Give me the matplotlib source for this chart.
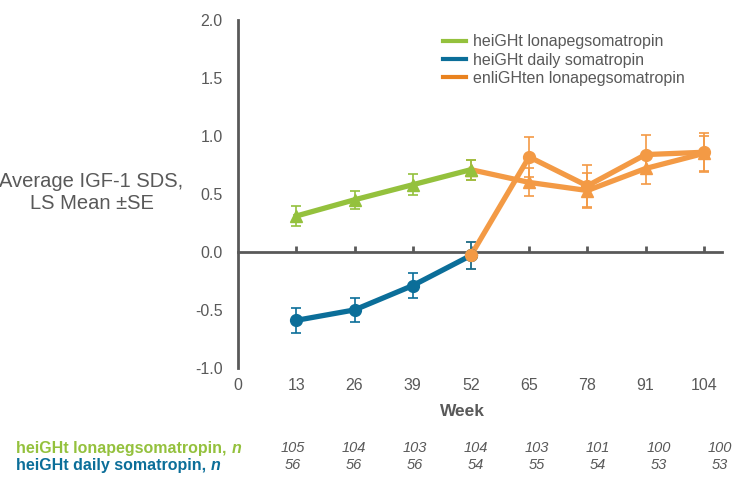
import numpy as np
import matplotlib.pyplot as plt
from matplotlib.lines import Line2D

# weeks on the x axis
weeks = [0, 13, 26, 39, 52, 65, 78, 91, 104]

# heiGHt lonapegsomatropin (weeks 13-52)
lonap_weeks = [13, 26, 39, 52]
lonap_mean = [0.31, 0.45, 0.58, 0.71]
lonap_se = [0.085, 0.08, 0.09, 0.085]

# heiGHt daily somatropin (weeks 13-52)
daily_weeks = [13, 26, 39, 52]
daily_mean = [-0.59, -0.50, -0.29, -0.03]
daily_se = [0.11, 0.10, 0.11, 0.115]

# enliGHten, previously lonapegsomatropin (triangles)
ext_lonap_weeks = [52, 65, 78, 91, 104]
ext_lonap_mean = [0.71, 0.60, 0.53, 0.72, 0.85]
ext_lonap_se = [0.085, 0.12, 0.15, 0.13, 0.15]

# enliGHten, switched from daily somatropin (circles)
ext_daily_weeks = [52, 65, 78, 91, 104]
ext_daily_mean = [-0.03, 0.82, 0.57, 0.84, 0.86]
ext_daily_se = [0.115, 0.17, 0.18, 0.17, 0.17]

# numbers at risk
n_lonap = [105, 104, 103, 104, 103, 101, 100, 100]
n_daily = [56, 56, 56, 54, 55, 54, 53, 53]

GREEN = '#94C13D'
BLUE = '#0B6E99'
ORANGE = '#F39A45'
ORANGE_LEG = '#E9821F'
GREY = '#595959'

plt.rcParams['font.family'] = ['Liberation Sans', 'DejaVu Sans']

fig = plt.figure(figsize=(7.44, 4.79), dpi=100)
ax = fig.add_axes([0.32, 0.232, 0.65, 0.726])


def series(x, y, e, color, marker):
    ax.errorbar(x, y, yerr=e, color=color, lw=3.8, marker=marker, ms=8.5,
                ecolor=color, elinewidth=1.2, capsize=3.5, capthick=1.2, zorder=3)


series(ext_daily_weeks, ext_daily_mean, ext_daily_se, ORANGE, 'o')
series(ext_lonap_weeks, ext_lonap_mean, ext_lonap_se, ORANGE, '^')
series(lonap_weeks, lonap_mean, lonap_se, GREEN, '^')
series(daily_weeks, daily_mean, daily_se, BLUE, 'o')
# orange starting point at week 52 drawn over blue
ax.plot(ext_daily_weeks[:1], ext_daily_mean[:1], 'o', color=ORANGE, ms=8.5, zorder=4)

ax.set_xlim(0, 108)
ax.set_ylim(-1.0, 2.0)
ax.set_yticks([-1.0, -0.5, 0.0, 0.5, 1.0, 1.5, 2.0])
ax.set_yticklabels(['%.1f' % v for v in ax.get_yticks()])

for s in ['top', 'right']:
    ax.spines[s].set_visible(False)
ax.spines['left'].set_color(GREY)
ax.spines['left'].set_linewidth(2)
ax.spines['bottom'].set_position(('data', 0))
ax.spines['bottom'].set_color(GREY)
ax.spines['bottom'].set_linewidth(2)
ax.tick_params(axis='y', length=0, labelsize=11.5, labelcolor=GREY, pad=11)
ax.set_xticks(weeks[1:])
ax.tick_params(axis='x', direction='in', length=4, width=2, color=GREY,
               labelbottom=False)

sec = ax.secondary_xaxis(0)
sec.set_xticks(weeks)
sec.spines['bottom'].set_visible(False)
sec.tick_params(length=0, labelsize=11.5, labelcolor=GREY, pad=7)

fig.text(0.123, 0.599, 'Average IGF-1 SDS,\nLS Mean \u00b1SE', ha='center', va='center',
         fontsize=14.5, color=GREY, linespacing=1.2)
fig.text(0.622, 0.14, 'Week', ha='center', va='center', fontsize=12.5,
         fontweight='bold', color=GREY)

handles = [Line2D([], [], color=GREEN, lw=3),
           Line2D([], [], color=BLUE, lw=3),
           Line2D([], [], color=ORANGE_LEG, lw=3)]
ax.legend(handles, ['heiGHt lonapegsomatropin', 'heiGHt daily somatropin',
                    'enliGHten lonapegsomatropin'],
          loc='upper left', bbox_to_anchor=(0.395, 1.0), frameon=False,
          fontsize=11.5, labelcolor=GREY, handlelength=1.4, handletextpad=0.45,
          labelspacing=0.2)

# numbers table
for label, color, yf in [('heiGHt lonapegsomatropin, ', GREEN, 0.064),
                         ('heiGHt daily somatropin, ', BLUE, 0.029)]:
    t = fig.text(0.022, yf, label, ha='left', va='center', fontsize=11.5,
                 fontweight='bold', color=color)
    ax.annotate('n', xy=(1, 0), xycoords=t, va='bottom', fontsize=11.5,
                fontweight='bold', style='italic', color=color)

cols = np.linspace(0.394, 0.968, len(n_lonap))
for x, a, b in zip(cols, n_lonap, n_daily):
    fig.text(x, 0.064, str(a), ha='center', va='center',
             fontsize=10.5, style='italic', color=GREY)
    fig.text(x, 0.029, str(b), ha='center', va='center',
             fontsize=10.5, style='italic', color=GREY)

fig.savefig('out.png', dpi=100)
